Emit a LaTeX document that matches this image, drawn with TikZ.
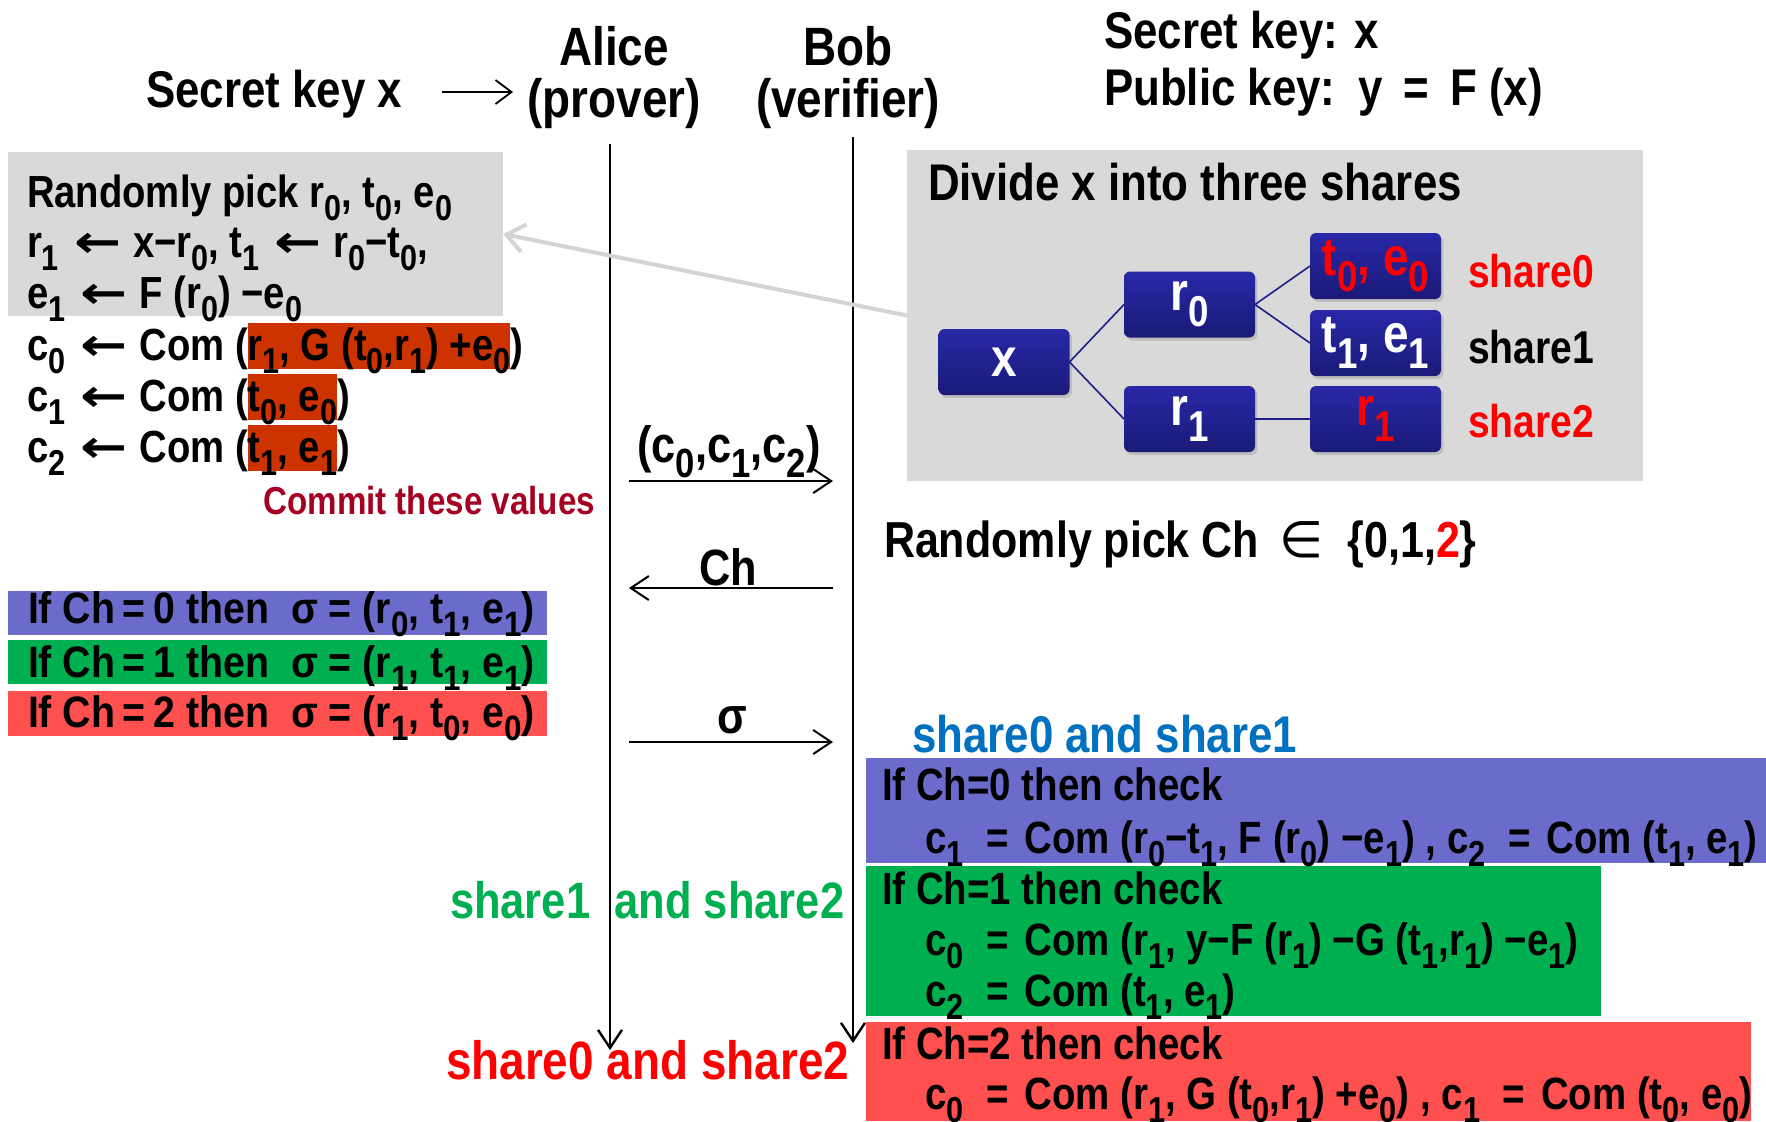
\documentclass[tikz,border=0pt]{standalone}
\usepackage{fontspec}
\usepackage{graphicx}
\setmainfont{Liberation Sans}[FakeStretch=0.85]
\newfontfamily\dv{DejaVu Sans}
\usetikzlibrary{arrows.meta,shadows}
\newcommand\lo[1]{\raisebox{-0.3em}{\scalebox{0.8}{#1}}}
\newcommand\fs[1]{\fontsize{#1}{#1}\selectfont}
\newcommand\la{\hspace{0.34em}{\dv\scalebox{1.25}[1]{←}}\hspace{0.26em}}
\newcommand\eq{\hspace{0.5em}=\hspace{0.35em}}
\definecolor{gbox}{HTML}{D9D9D9}
\definecolor{hl}{HTML}{CC3300}
\definecolor{commit}{HTML}{A50021}
\definecolor{bbar}{HTML}{6B6BCC}
\definecolor{gbar}{HTML}{00B050}
\definecolor{rbar}{HTML}{FF5050}
\definecolor{sblue}{HTML}{0070C0}
\definecolor{navyT}{HTML}{2828A8}
\definecolor{navyB}{HTML}{1A1A78}
\definecolor{navyL}{HTML}{1F1F8A}
\definecolor{garrow}{HTML}{D4D4D4}
\definecolor{pred}{HTML}{FF0000}
\begin{document}
\begin{tikzpicture}[x=0.5pt,y=-0.5pt,
  every node/.style={inner sep=0pt, outer sep=0pt},
  head/.style={font=\bfseries\fs{27}, anchor=base},
  hdtxt/.style={font=\bfseries\fs{25.8}, anchor=base west},
  ltxt/.style={font=\bfseries\fs{22.5}, anchor=base west},
  bartxt/.style={font=\bfseries\fs{22}, anchor=base west},
  chk/.style={font=\bfseries\fs{22.6}, anchor=base west},
  msglbl/.style={font=\bfseries\fs{25.5}, anchor=base},
  sharelbl/.style={font=\bfseries\fs{23}, anchor=base west},
  hlbox/.style={fill=hl, anchor=base west, font=\bfseries\fs{22.5}, text height=18.5pt, text depth=4.5pt},
  msg/.style={line width=1pt, -{Straight Barb[length=9pt, width=12pt, line width=1pt]}},
  life/.style={line width=1.2pt, -{Straight Barb[length=9pt, width=12pt, line width=1.2pt]}},
  treebox/.style={rounded corners=3pt, minimum width=65.5pt, minimum height=33pt,
    top color=navyT, bottom color=navyB, text=white, font=\bfseries\fs{27},
    drop shadow={shadow xshift=1.2pt, shadow yshift=-1.5pt, opacity=0.3}},
  treeline/.style={draw=navyL, line width=0.8pt}
]
\useasboundingbox (0,0) rectangle (1766,1121);

% ---------- top ----------
\node[hdtxt] (sk) at (146,107) {Secret key x};
\coordinate (ska) at (442,92);
\coordinate (skb) at (513,92);
\draw[line width=0.9pt, -{Straight Barb[length=8pt, width=12pt, line width=0.9pt]}] (ska) -- (skb);
\node[head] (alice) at (614,65) {Alice};
\node[head] (prover) at (614,117) {(prover)};
\node[head] (bob) at (848,65) {Bob};
\node[head] (verifier) at (848,117) {(verifier)};
\node[hdtxt] (seck) at (1104,48) {Secret key: x};
\node[hdtxt] (pubk) at (1104,105) {Public key:\hspace{0.45em}y \,=\, F (x)};

% ---------- lifelines ----------
\coordinate (a0) at (610,144);
\coordinate (a1) at (610,1050);
\coordinate (b0) at (853,137);
\coordinate (b1) at (853,1043);
\draw[life] (a0) -- (a1);
\draw[life] (b0) -- (b1);

% ---------- left gray box ----------
\node[fill=gbox, anchor=north west, minimum width=247.5pt, minimum height=82pt] (lbox) at (8,152) {};
\node[ltxt] (l1) at (27,207) {Randomly pick r\lo0, t\lo0, e\lo0};
\node[ltxt] (l2) at (27,257) {r\lo1\la x−r\lo0, t\lo1\la r\lo0−t\lo0,};
\node[ltxt] (l3) at (27,308) {e\lo1\la F (r\lo0) −e\lo0};
\node[ltxt] (c0a) at (27,360) {c\lo0\la Com (};
\node[hlbox] (c0b) at (c0a.base east) {r\lo1, G (t\lo0,r\lo1) +e\lo0};
\node[ltxt] (c0c) at (c0b.base east) {)};
\node[ltxt] (c1a) at (27,411) {c\lo1\la Com (};
\node[hlbox] (c1b) at (c1a.base east) {t\lo0, e\lo0};
\node[ltxt] (c1c) at (c1b.base east) {)};
\node[ltxt] (c2a) at (27,462) {c\lo2\la Com (};
\node[hlbox] (c2b) at (c2a.base east) {t\lo1, e\lo1};
\node[ltxt] (c2c) at (c2b.base east) {)};
\node[font=\bfseries\fs{19.5}, text=commit, anchor=base east] (commit) at (595,514) {Commit these values};

% ---------- right gray box with tree ----------
\node[fill=gbox, anchor=north west, minimum width=368pt, minimum height=165.5pt] (rbox) at (907,150) {};
\node[hdtxt] (divide) at (928,200) {Divide x into three shares};
\node[treebox] (tx) at (1004,362) {x};
\node[treebox] (tr0) at (1189.5,304.5) {r\lo0};
\node[treebox] (tr1) at (1189.5,419) {r\lo1};
\node[treebox, text=pred] (tte0) at (1375.5,266) {t\lo0, e\lo0};
\node[treebox] (tte1) at (1375.5,343) {t\lo1, e\lo1};
\node[treebox, text=pred] (tr1b) at (1375.5,419) {r\lo1};
\draw[treeline] (tx.east) -- (tr0.west);
\draw[treeline] (tx.east) -- (tr1.west);
\draw[treeline] (tr0.east) -- (tte0.west);
\draw[treeline] (tr0.east) -- (tte1.west);
\draw[treeline] (tr1.east) -- (tr1b.west);
\node[sharelbl, text=pred] (sh0) at (1468,287) {share0};
\node[sharelbl] (sh1) at (1468,363) {share1};
\node[sharelbl, text=pred] (sh2) at (1468,437) {share2};
\draw[garrow, line width=2pt, -{Straight Barb[length=9pt, width=14pt, line width=2pt]}] (rbox.west) -- (lbox.east);

% ---------- messages ----------
\coordinate (m1a) at (629,481); \coordinate (m1b) at (833,481);
\coordinate (m2a) at (833,588); \coordinate (m2b) at (629,588);
\coordinate (m3a) at (629,742); \coordinate (m3b) at (833,742);
\draw[msg] (m1a) -- (m1b);
\draw[msg] (m2a) -- (m2b);
\draw[msg] (m3a) -- (m3b);
\node[msglbl] (lc) at (729,462) {(c\lo0,c\lo1,c\lo2)};
\node[msglbl] (lch) at (728,585) {Ch};
\node[msglbl] (lsig) at (732,733) {σ};

\node[font=\bfseries\fs{25.3}, anchor=base west] (pick) at (884,557) {Randomly pick Ch \,{\mdseries\dv ∈}\ \ \{0,1,\textcolor{pred}{2}\}};

% ---------- left answer bars ----------
\node[fill=bbar, anchor=north west, minimum width=269.5pt, minimum height=22pt] (bb) at (8,591) {};
\node[fill=gbar, anchor=north west, minimum width=269.5pt, minimum height=22pt] (gb) at (8,640) {};
\node[fill=rbar, anchor=north west, minimum width=269.5pt, minimum height=22.5pt] (rb) at (8,691) {};
\node[bartxt] (s0) at (28,623) {\scalebox{1.05}[1]{If Ch\,=\,0 then\ \ σ = (r\lo0, t\lo1, e\lo1)}};
\node[bartxt] (s1) at (28,677) {\scalebox{1.05}[1]{If Ch\,=\,1 then\ \ σ = (r\lo1, t\lo1, e\lo1)}};
\node[bartxt] (s2) at (28,727) {\scalebox{1.05}[1]{If Ch\,=\,2 then\ \ σ = (r\lo1, t\lo0, e\lo0)}};

% ---------- right check boxes ----------
\node[font=\bfseries\fs{25.8}, text=sblue, anchor=base west] (sh01) at (912,752) {share0 and share1};
\node[fill=bbar, anchor=north west, minimum width=450pt, minimum height=52.5pt] (cb) at (866,758) {};
\node[fill=gbar, anchor=north west, minimum width=367.5pt, minimum height=75pt] (cg) at (866,866) {};
\node[fill=rbar, anchor=north west, minimum width=442.5pt, minimum height=49.5pt] (cr) at (866,1022) {};
\node[chk] (k0) at (882,800) {If Ch=0 then check};
\node[chk] (k0b) at (925,853) {c\lo1\eq Com (r\lo0−t\lo1, F (r\lo0) −e\lo1) , c\lo2\eq Com (t\lo1, e\lo1)};
\node[chk] (k1) at (882,904) {If Ch=1 then check};
\node[chk] (k1b) at (925,955) {c\lo0\eq Com (r\lo1, y−F (r\lo1) −G (t\lo1,r\lo1) −e\lo1)};
\node[chk] (k1c) at (925,1006) {c\lo2\eq Com (t\lo1, e\lo1)};
\node[chk] (k2) at (882,1059) {If Ch=2 then check};
\node[chk] (k2b) at (925,1109) {c\lo0\eq Com (r\lo1, G (t\lo0,r\lo1) +e\lo0) , c\lo1\eq Com (t\lo0, e\lo0)};

\node[font=\bfseries\fs{25.6}, text=gbar, anchor=base west] (sh12) at (450,918) {share1 \ and share2};
\node[font=\bfseries\fs{27}, text=pred, anchor=base west] (sh02) at (446,1079) {share0 and share2};
\end{tikzpicture}
\end{document}
